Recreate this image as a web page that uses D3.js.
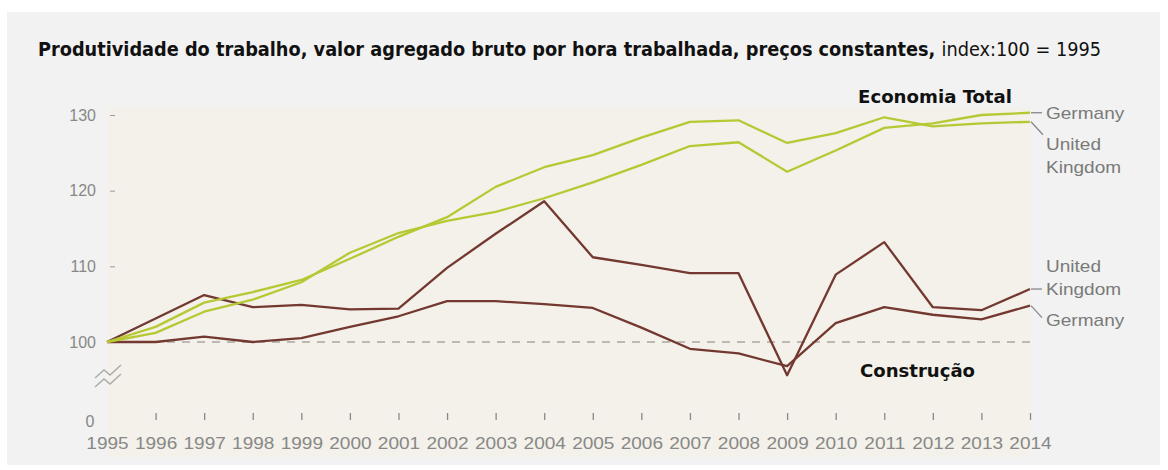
<!DOCTYPE html>
<html>
<head>
<meta charset="utf-8">
<script src="https://cdn.jsdelivr.net/npm/d3@7"></script>
<style>
  body { margin: 0; background: #fff; }
  svg { display: block; }
</style>
</head>
<body>
<div class="chartDiv"></div>
<script>
'use strict';

// values, index 100 = 1995
var years = [1995, 1996, 1997, 1998, 1999, 2000, 2001, 2002, 2003, 2004,
             2005, 2006, 2007, 2008, 2009, 2010, 2011, 2012, 2013, 2014];
var totalGermany = [100, 101.2, 104.0, 105.6, 107.9, 111.8, 114.4, 116.0, 117.2, 119.0,
                    121.1, 123.4, 125.9, 126.4, 122.5, 125.3, 128.3, 128.9, 130.0, 130.3];
var totalUK = [100, 102.0, 105.2, 106.6, 108.2, 111.0, 113.9, 116.5, 120.5, 123.1,
               124.7, 127.0, 129.1, 129.3, 126.3, 127.6, 129.7, 128.5, 128.9, 129.1];
var constrUK = [100, 103.1, 106.2, 104.6, 104.9, 104.3, 104.4, 109.8, 114.3, 118.6,
                111.2, 110.2, 109.1, 109.1, 95.6, 108.9, 113.2, 104.6, 104.2, 107.0];
var constrGermany = [100, 100, 100.7, 100.0, 100.5, 102.0, 103.4, 105.4, 105.4, 105.0,
                     104.5, 101.9, 99.1, 98.5, 96.8, 102.5, 104.6, 103.6, 103.0, 104.8];
var yTicks = [100, 110, 120, 130];

var W = 1168, H = 470;
var green = '#b6c833', brown = '#73382f', grey = '#7a7a7a';
var sx = 1.12; // the picture's text is a bit wide

var svg = d3.select('.chartDiv').append('svg').attr('width', W).attr('height', H);

var x = d3.scaleLinear().domain([1995, 2014]).range([107, 1030]);
var y = d3.scaleLinear().domain([100, 130]).range([342, 115]);

// panels
svg.append('rect').attr('x', 7).attr('y', 12).attr('width', 1153).attr('height', 453).attr('fill', '#f1f2f1');
svg.append('rect').attr('x', 107).attr('y', 107).attr('width', 923).attr('height', 350).attr('fill', '#f3f1e9');

// title
var title = svg.append('text')
  .attr('x', 38).attr('y', 56)
  .attr('font-family', '"DejaVu Sans Condensed", "Liberation Sans Narrow", "Open Sans", sans-serif')
  .attr('font-size', 19).attr('fill', '#111')
  .attr('textLength', 1063).attr('lengthAdjust', 'spacingAndGlyphs');
title.append('tspan').attr('font-weight', 'bold')
  .text('Produtividade do trabalho, valor agregado bruto por hora trabalhada, preços constantes, ');
title.append('tspan').text('index:100 = 1995');

// y axis
var yAxis = svg.append('g')
  .attr('transform', 'translate(116,0)')
  .call(d3.axisLeft(y).tickValues(yTicks).tickSize(6).tickPadding(12));
yAxis.select('.domain').remove();
yAxis.selectAll('.tick line').attr('stroke', '#999').attr('x2', -1).attr('x1', -6);
yAxis.selectAll('.tick text')
  .attr('font-family', '"Liberation Sans", Arial, sans-serif')
  .attr('font-size', 16).attr('fill', '#888').attr('x', -20);

// broken axis mark and the zero
[0, 9].forEach(function(d) {
  svg.append('path')
    .attr('d', d3.line()([[95, 378 + d], [104, 370 + d], [110, 375 + d], [121, 365 + d]]))
    .attr('fill', 'none').attr('stroke', '#aaa').attr('stroke-width', 1.4);
});
svg.append('text').attr('x', 90).attr('y', 427).attr('text-anchor', 'middle')
  .attr('font-family', '"Liberation Sans", Arial, sans-serif').attr('font-size', 16).attr('fill', '#888')
  .text('0');

// x axis
var xAxis = svg.append('g')
  .attr('transform', 'translate(0,413)')
  .call(d3.axisBottom(x).tickValues(years).tickFormat(d3.format('d')).tickSize(7).tickPadding(17));
xAxis.select('.domain').remove();
xAxis.selectAll('.tick line').attr('stroke', '#888').attr('stroke-width', 1.3)
  .filter(function(d) { return d === 1995; }).remove();
xAxis.selectAll('.tick text')
  .attr('font-family', '"Liberation Sans", Arial, sans-serif')
  .attr('font-size', 17).attr('fill', '#888')
  .attr('transform', 'scale(' + sx + ',1)');

// reference line at 100
svg.append('line')
  .attr('x1', x(1995)).attr('x2', x(2014)).attr('y1', y(100)).attr('y2', y(100))
  .attr('stroke', '#a9a6a0').attr('stroke-width', 1.6).attr('stroke-dasharray', '8,7');

// lines
var lineGen = d3.line().x(function(d) { return x(d.year); }).y(function(d) { return y(d.value); });
var series = [
  {name: 'constrGermany', values: constrGermany, color: brown},
  {name: 'constrUK', values: constrUK, color: brown},
  {name: 'totalUK', values: totalUK, color: green},
  {name: 'totalGermany', values: totalGermany, color: green}
];
svg.append('g').selectAll('path')
  .data(series)
  .join('path')
  .attr('d', function(s) { return lineGen(s.values.map(function(v, i) { return {year: years[i], value: v}; })); })
  .attr('fill', 'none')
  .attr('stroke', function(s) { return s.color; })
  .attr('stroke-width', 2.3)
  .attr('stroke-linejoin', 'round');

// end labels
function endLabel(values, dx, dy, lines, baseY) {
  var x0 = x(2014), y0 = y(values[values.length - 1]);
  svg.append('line').attr('x1', x0 + 1).attr('y1', y0).attr('x2', x0 + dx).attr('y2', y0 + dy)
    .attr('stroke', '#888').attr('stroke-width', 1.3);
  lines.forEach(function(t, i) {
    svg.append('text')
      .attr('transform', 'translate(1046,' + (baseY + i * 23) + ') scale(' + sx + ',1)')
      .attr('font-family', '"Liberation Sans", Arial, sans-serif')
      .attr('font-size', 17).attr('fill', grey)
      .text(t);
  });
}
endLabel(totalGermany, 12, 0, ['Germany'], 119);
endLabel(totalUK, 13, 13, ['United', 'Kingdom'], 150);
endLabel(constrUK, 12, 0, ['United', 'Kingdom'], 272);
endLabel(constrGermany, 12, 12, ['Germany'], 326);

// group headings
function heading(t, hx, hy, len) {
  svg.append('text').attr('x', hx).attr('y', hy)
    .attr('font-family', '"DejaVu Sans Condensed", "Liberation Sans Narrow", "Open Sans", sans-serif')
    .attr('font-size', 18).attr('font-weight', 'bold').attr('fill', '#111')
    .attr('textLength', len).attr('lengthAdjust', 'spacingAndGlyphs')
    .text(t);
}
heading('Economia Total', 858, 103, 154);
heading('Construção', 860, 377, 115);
</script>
</body>
</html>
